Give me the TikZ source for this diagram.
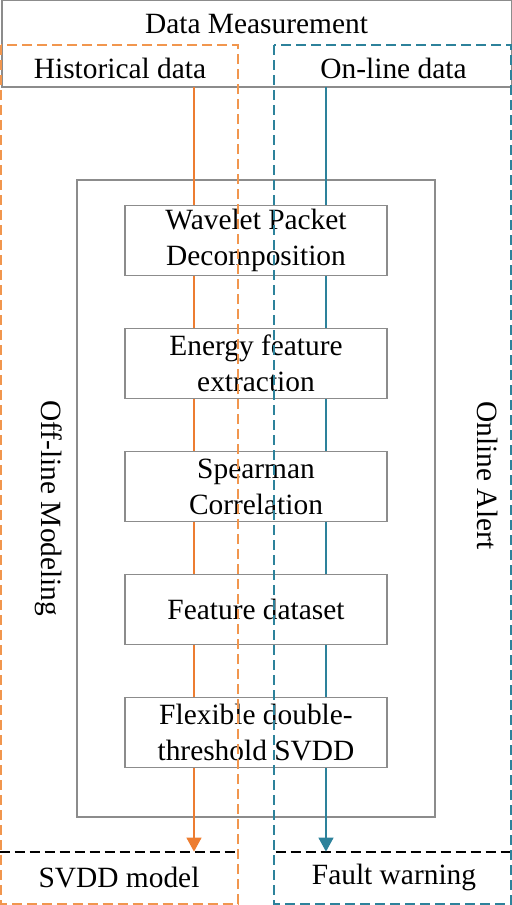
\documentclass[tikz,border=0pt]{standalone}
\usepackage{fontspec}
\setmainfont{Liberation Serif}
\usepackage{tikz}
\usetikzlibrary{arrows.meta}
\definecolor{offline}{RGB}{237,125,49}
\definecolor{offlinedash}{RGB}{241,150,78}
\definecolor{online}{RGB}{45,130,155}
\definecolor{framegray}{RGB}{140,140,140}
\tikzset{basic/.style={draw=framegray,line width=0.55pt,
                       align=center,minimum width=131pt,minimum height=35pt,inner sep=0pt}}
\tikzset{txt/.style={inner sep=0pt,anchor=base}}
\tikzset{outcome/.style={inner sep=0pt,minimum height=25.5pt}}

\begin{document}
\begin{tikzpicture}[x=0.5pt,y=-0.5pt,>={Triangle[length=7pt,width=7.5pt]},
                    font=\fontsize{14.7}{18}\selectfont]
	\tikzstyle{flow}=[line width=0.7pt]
	\tikzstyle{region}=[dashed,dash pattern=on 5pt off 2.5pt,line width=1pt]
  \useasboundingbox (0,0) rectangle (512,905);

  % Data measurement frame with its two sources
  \draw[framegray,line width=0.55pt] (2,0.5) rectangle (511.5,87);
  \node (meas) [txt] at (256.5,33) {Data Measurement};
  \node (hist) [txt] at (120,78) {Historical data};
  \node (onl)  [txt] at (393.5,78) {On-line data};
  \coordinate (ox) at (194,87);
  \coordinate (bx) at (326,87);

  % Processing steps, stacked in a matrix
  \draw[framegray,line width=0.55pt] (77,180) rectangle (435,817);
  \matrix (steps) [row sep=25.9pt,inner sep=0pt] at (256,486.5) {
    \node (wpd)      [basic] {Wavelet Packet\\Decomposition}; \\
    \node (energy)   [basic] {Energy feature\\extraction}; \\
    \node (spearman) [basic] {Spearman\\Correlation}; \\
    \node (dataset)  [basic] {Feature dataset}; \\
    \node (svdd)     [basic] {Flexible double-\\threshold SVDD}; \\
  };

  % Outcomes, each under a black dashed rule
  \node (model)   [outcome,minimum width=119pt] at (119,877.5) {SVDD model};
  \node (warning) [outcome,minimum width=118pt] at (394,877.5) {Fault warning};
  \draw[region,black] (model.north west) -- (model.north east);
  \draw[region,black] (warning.north west) -- (warning.north east);

  % Side labels
  \node (offl)  [txt,rotate=-90,anchor=base west] at (41,400) {Off-line Modeling};
  \node (alert) [txt,rotate=-90,anchor=base west] at (477,401) {Online Alert};

  % Flows through the steps
  \path[offline,flow]
    (ox) edge (wpd.north -| ox)
    (wpd.south -| ox) edge (energy.north -| ox)
    (energy.south -| ox) edge (spearman.north -| ox)
    (spearman.south -| ox) edge (dataset.north -| ox)
    (dataset.south -| ox) edge (svdd.north -| ox)
    (svdd.south -| ox) edge[->] (model.north -| ox);
  \path[online,flow]
    (bx) edge (wpd.north -| bx)
    (wpd.south -| bx) edge (energy.north -| bx)
    (energy.south -| bx) edge (spearman.north -| bx)
    (spearman.south -| bx) edge (dataset.north -| bx)
    (dataset.south -| bx) edge (svdd.north -| bx)
    (svdd.south -| bx) edge[->] (warning.north -| bx);

  % Off-line and on-line regions
  \draw[region,offlinedash] (1,45) rectangle (238,903.5);
  \draw[region,online] (273.5,45) rectangle (511,903.5);
\end{tikzpicture}
\end{document}
